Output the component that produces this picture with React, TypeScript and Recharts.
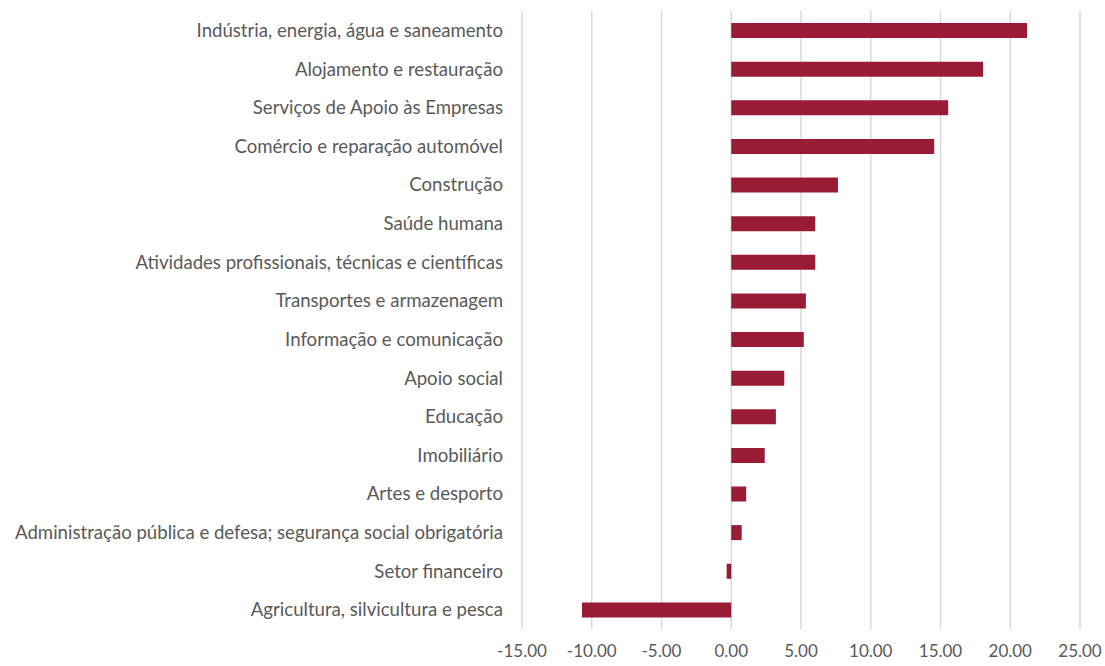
import { BarChart, Bar, XAxis, YAxis, CartesianGrid } from 'recharts'

const sectors = [
  'Indústria, energia, água e saneamento',
  'Alojamento e restauração',
  'Serviços de Apoio às Empresas',
  'Comércio e reparação automóvel',
  'Construção',
  'Saúde humana',
  'Atividades profissionais, técnicas e científicas',
  'Transportes e armazenagem',
  'Informação e comunicação',
  'Apoio social',
  'Educação',
  'Imobiliário',
  'Artes e desporto',
  'Administração pública e defesa; segurança social obrigatória',
  'Setor financeiro',
  'Agricultura, silvicultura e pesca',
]

const values = [
  21.2, 18.05, 15.55, 14.55, 7.65, 6.02, 6.02, 5.35, 5.2, 3.8, 3.2, 2.4, 1.07, 0.75, -0.33, -10.7,
]

const xTicks = [-15, -10, -5, 0, 5, 10, 15, 20, 25]

const data = sectors.map((name, i) => ({ name, value: values[i] }))

const xLabelStyle = { fontSize: 17, fill: '#595959', fontFamily: 'Lato, sans-serif' }
const yLabelStyle = { fontSize: 18.6, fill: '#595959', fontFamily: 'Lato, sans-serif' }

export default function App() {
  return (
    <div style={{ position: 'absolute', left: 0, top: 0, background: '#fff' }}>
      <BarChart
        width={1105}
        height={666}
        data={data}
        layout="vertical"
        margin={{ top: 11, right: 25, bottom: 0, left: 0 }}
      >
        <CartesianGrid horizontal={false} stroke="#d9d9d9" strokeWidth={1.5} />
        <XAxis
          type="number"
          domain={[-15, 25]}
          ticks={xTicks}
          tickFormatter={(v) => Number(v).toFixed(2)}
          axisLine={false}
          tickLine={false}
          tickMargin={10}
          height={37}
          tick={xLabelStyle}
          interval={0}
        />
        <YAxis
          type="category"
          dataKey="name"
          width={522}
          axisLine={false}
          tickLine={false}
          tickMargin={13}
          tick={yLabelStyle}
          interval={0}
        />
        <Bar dataKey="value" fill="#9a1b34" barSize={15} isAnimationActive={false} />
      </BarChart>
    </div>
  )
}
